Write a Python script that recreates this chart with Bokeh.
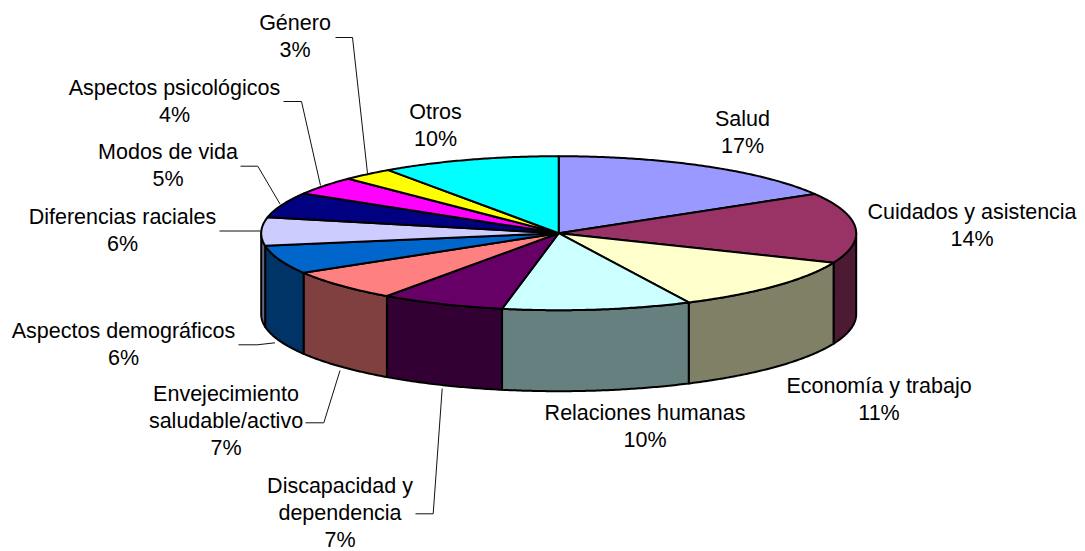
import numpy as np
from bokeh.plotting import figure
from bokeh.models import Range1d
from bokeh.core.properties import value
from bokeh.embed import file_html
from bokeh.resources import INLINE

categories = ["Salud", "Cuidados y asistencia", "Economía y trabajo", "Relaciones humanas",
              "Discapacidad y dependencia", "Envejecimiento saludable/activo", "Aspectos demográficos",
              "Diferencias raciales", "Modos de vida", "Aspectos psicológicos", "Género", "Otros"]
values = [16.5, 14.75, 11.55, 10.25, 6.75, 6.6, 6.0, 5.9, 5.3, 3.9, 2.8, 9.7]
percent_labels = ["17%", "14%", "11%", "10%", "7%", "7%", "6%", "6%", "5%", "4%", "3%", "10%"]
top_colors = ["#9999FF", "#993366", "#FFFFCC", "#CCFFFF", "#660066", "#FF8080",
              "#0066CC", "#CCCCFF", "#000080", "#FF00FF", "#FFFF00", "#00FFFF"]
side_colors = ["#4D4D80", "#4D1A33", "#808066", "#668080", "#330033", "#804040",
               "#003366", "#666680", "#000040", "#800080", "#808000", "#008080"]

# label lines: (centre x, first-line y, [lines])
label_layout = [
    (742, 118, ["Salud"]),
    (971.5, 211, ["Cuidados y asistencia"]),
    (878.5, 385, ["Economía y trabajo"]),
    (644.5, 412, ["Relaciones humanas"]),
    (339.5, 485, ["Discapacidad y", "dependencia"]),
    (225.5, 393, ["Envejecimiento", "saludable/activo"]),
    (123, 330, ["Aspectos demográficos"]),
    (122, 216, ["Diferencias raciales"]),
    (167.5, 151, ["Modos de vida"]),
    (174, 87, ["Aspectos psicológicos"]),
    (294.5, 22, ["Género"]),
    (435, 111, ["Otros"]),
]
LINE_H = 27.2

leaders = [
    ([367, 352, 335], [173, 37, 37]),
    ([320, 301, 283], [185, 101, 101]),
    ([279.5, 257.3, 240], [203.5, 165.7, 165.7]),
    ([260.5, 219], [230.5, 230.5]),
    ([274.5, 256.7, 238], [342.3, 344.3, 344.3]),
    ([339.5, 323.3, 305], [370, 422.3, 422.3]),
    ([441.7, 432.7, 415], [388, 513.3, 513.3]),
]

CX, CY, RX, RY, DEPTH = 558.2, 232.7, 297.5, 77.0, 81.0

p = figure(width=1085, height=551, output_backend="svg", toolbar_location=None,
           x_range=Range1d(0, 1085), y_range=Range1d(551, 0),
           x_axis_location=None, y_axis_location=None, min_border=0)
p.grid.visible = False
p.outline_line_color = None
p.background_fill_color = "white"
p.border_fill_color = "white"


def rim(a, b, dy=0.0):
    t = np.radians(np.linspace(a, b, max(int(abs(b - a) * 2), 2)))
    return CX + RX * np.sin(t), CY - RY * np.cos(t) + dy


edges = np.concatenate([[0.0], np.cumsum(values)]) / sum(values) * 360.0

# side walls (front half only)
for i in range(len(values)):
    a, b = max(edges[i], 90.0), min(edges[i + 1], 270.0)
    if b <= a:
        continue
    x1, y1 = rim(a, b)
    x2, y2 = rim(a, b, DEPTH)
    p.patch(np.r_[x1, x2[::-1]], np.r_[y1, y2[::-1]], fill_color=side_colors[i],
            line_color="black", line_width=2, line_join="round")

# top face
for i in range(len(values)):
    x, y = rim(edges[i], edges[i + 1])
    p.patch(np.r_[CX, x], np.r_[CY, y], fill_color=top_colors[i],
            line_color="black", line_width=2, line_join="round")

for xs, ys in leaders:
    p.line(xs, ys, line_color="#111111", line_width=1)

tx, ty, tt = [], [], []
for (cx, y0, lines), pct in zip(label_layout, percent_labels):
    for k, s in enumerate(lines + [pct]):
        tx.append(cx)
        ty.append(y0 + k * LINE_H)
        tt.append(s)
p.text(tx, ty, text=tt, text_font=value("Liberation Sans"), text_font_size="21.5px",
       text_color="black", text_align="center", text_baseline="middle")

open("out.html", "w").write(file_html(p, INLINE))
